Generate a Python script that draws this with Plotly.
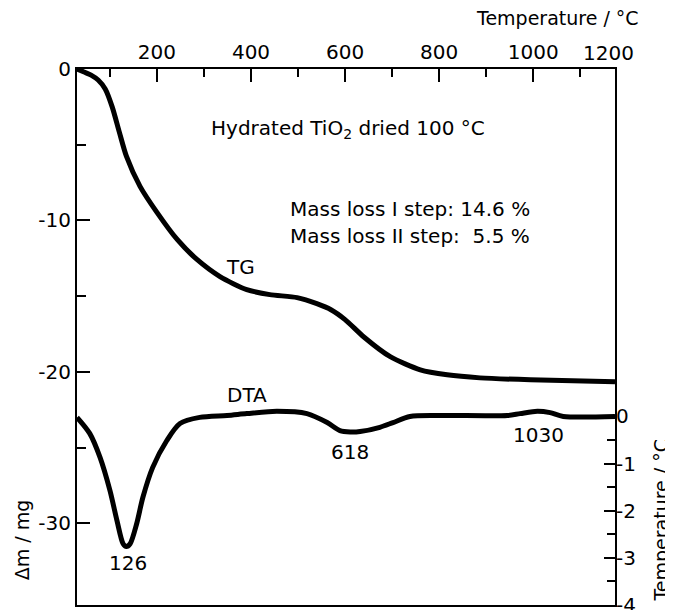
import plotly.graph_objects as go

# ---- data ----
tg_temp = [30, 45, 60, 75, 90, 105, 120, 135, 164, 200, 243, 285, 334, 391, 440, 498,
           540, 570, 600, 640, 696, 760, 817, 887, 994, 1174]
tg_mass = [0.0, -0.2, -0.4, -0.73, -1.32, -2.52, -4.17, -5.76, -7.75, -9.47, -11.26,
           -12.58, -13.71, -14.57, -14.90, -15.10, -15.50, -15.90, -16.55, -17.70, -19.0,
           -19.87, -20.2, -20.4, -20.53, -20.66]

dta_temp = [30, 57, 79, 100, 115, 128, 135, 143, 157, 170, 191, 221, 249, 291, 349, 391,
            455, 519, 562, 589, 611, 632, 674, 702, 738, 802, 945, 972, 1009, 1036, 1064, 1174]
dta_val = [-0.02, -0.36, -0.87, -1.57, -2.21, -2.70, -2.76, -2.70, -2.27, -1.72, -1.08,
           -0.51, -0.15, -0.02, 0.02, 0.06, 0.11, 0.06, -0.13, -0.30, -0.33, -0.32, -0.23,
           -0.13, 0.0, 0.02, 0.02, 0.06, 0.11, 0.08, 0.0, 0.0]

x_ticks = [200, 400, 600, 800, 1000]
x_minor = [100, 300, 500, 700, 900, 1100]
y_ticks = [0, -10, -20, -30]
y_minor = [-5, -15, -25]
y2_ticks = [0, -1, -2, -3, -4]
y2_minor = [-0.5, -1.5, -2.5, -3.5]

FONT = "DejaVu Sans"
FS = 20
FT = 19

fig = go.Figure()
fig.add_trace(go.Scatter(x=tg_temp, y=tg_mass, mode="lines",
                         line=dict(color="black", width=5, shape="spline", smoothing=0.7),
                         yaxis="y", showlegend=False, hoverinfo="skip"))
fig.add_trace(go.Scatter(x=dta_temp, y=dta_val, mode="lines",
                         line=dict(color="black", width=5, shape="spline", smoothing=0.8),
                         yaxis="y2", showlegend=False, hoverinfo="skip"))

# page body has an 8px margin, so the figure is sized/placed to compensate
fig.update_layout(
    width=665, height=602,
    margin=dict(l=69, r=58, t=61, b=5, autoexpand=False),
    paper_bgcolor="white", plot_bgcolor="white",
    font=dict(family=FONT, size=FS, color="black"),
    xaxis=dict(side="top", range=[30, 1174], showgrid=False, zeroline=False,
               automargin=False,
               showline=True, linecolor="black", linewidth=2, mirror=True,
               ticks="inside", ticklen=13, tickwidth=2, tickcolor="black",
               tickvals=x_ticks, ticktext=[str(v) for v in x_ticks],
               minor=dict(tickvals=x_minor, ticks="inside", ticklen=8, tickwidth=2,
                          tickcolor="black", showgrid=False)),
    yaxis=dict(range=[-35.4, 0], showgrid=False, zeroline=False, automargin=False,
               showline=True, linecolor="black", linewidth=2, mirror=True,
               ticks="inside", ticklen=13, tickwidth=2, tickcolor="black",
               tickvals=y_ticks, ticktext=[str(v) for v in y_ticks],
               minor=dict(tickvals=y_minor, ticks="inside", ticklen=9, tickwidth=2,
                          tickcolor="black", showgrid=False)),
    yaxis2=dict(overlaying="y", side="right", range=[-4, 7.37], showgrid=False,
                zeroline=False, showline=False, automargin=False,
                ticks="inside", ticklen=11, tickwidth=2, tickcolor="black",
                ticklabeloverflow="allow",
                tickvals=y2_ticks, ticktext=["0", "-1", "-2", "-3", "-4"],
                minor=dict(tickvals=y2_minor, ticks="inside", ticklen=8, tickwidth=2,
                           tickcolor="black", showgrid=False)),
)

def ann(text, x, y, xref="x", yref="y", xanchor="center", yanchor="middle", angle=0, size=FS):
    fig.add_annotation(text=text, x=x, y=y, xref=xref, yref=yref, showarrow=False,
                       xanchor=xanchor, yanchor=yanchor, textangle=angle,
                       font=dict(family=FONT, size=size, color="black"))

# axis titles
ann("Temperature / °C", 1.048, 1.095, "paper", "paper", xanchor="right", size=FT)
ann("1200", 0.987, 1.030, "paper", "paper")
ann("Δm / mg", -0.102, 0.121, "paper", "paper", angle=-90, size=FT)
ann("Temperature / °C", 1.086, 0.158, "paper", "paper", angle=-90, size=FT)

# in-plot labels
ann("Hydrated TiO<sub>2</sub> dried 100 °C", 606, -3.97)
ann("Mass loss I step: 14.6 %", 479, -9.27, xanchor="left")
ann("Mass loss II step:\u00a0 5.5 %", 479, -11.06, xanchor="left")
ann("TG", 377, -13.05)
ann("DTA", 391, 0.45, yref="y2")
ann("126", 138, -3.1, yref="y2")
ann("618", 611, -0.76, yref="y2")
ann("1030", 1011, -0.40, yref="y2")

fig.write_html("out.html")
